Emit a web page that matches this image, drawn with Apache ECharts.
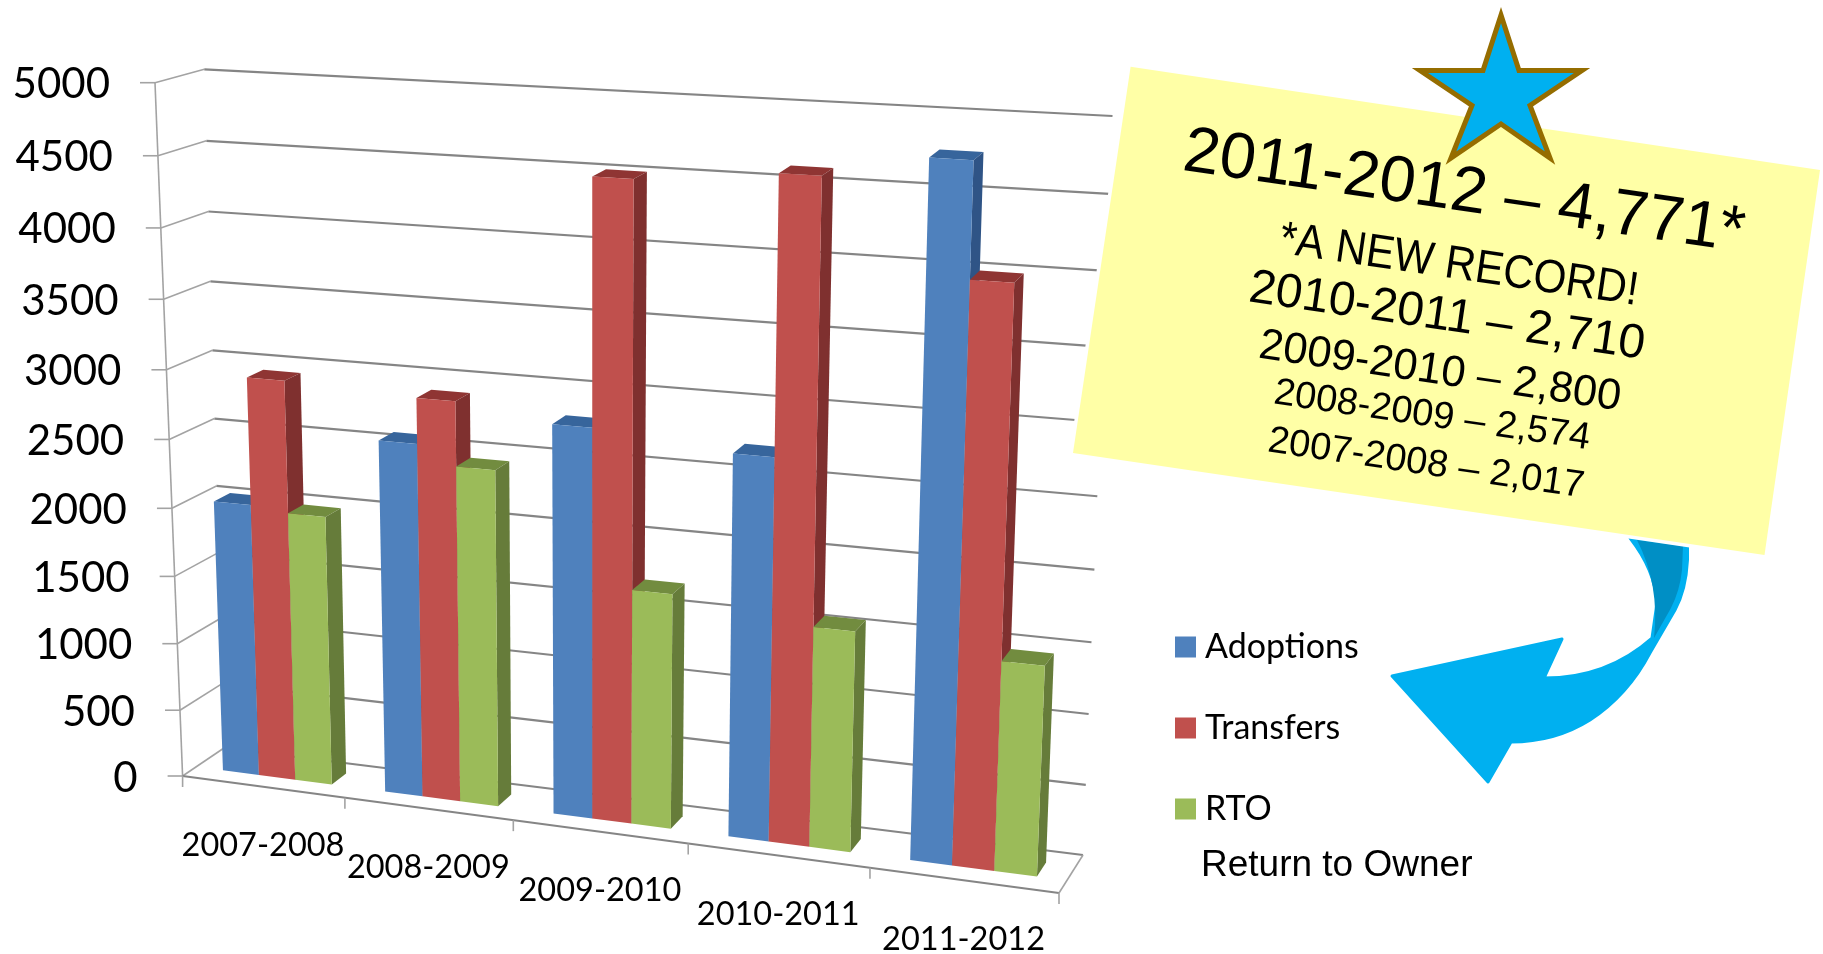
<!DOCTYPE html>
<html>
<head>
<meta charset="utf-8">
<style>html,body{margin:0;padding:0;background:#fff}#chart{width:1823px;height:954px}</style>
<script src="https://cdn.jsdelivr.net/npm/echarts@6/dist/echarts.min.js"></script>
</head>
<body>
<div id="chart"></div>
<script>
const categories = ['2007-2008', '2008-2009', '2009-2010', '2010-2011', '2011-2012']
const adoptions = [2017, 2574, 2800, 2710, 4771]
const transfers = [2940, 2900, 4510, 4610, 4000]
const rto = [1985, 2440, 1690, 1565, 1470]
const valueTicks = [0, 500, 1000, 1500, 2000, 2500, 3000, 3500, 4000, 4500, 5000]
const noteLines = [
  ['2011-2012 – 4,771*', 1464, 193, 65, 1],
  ['*A NEW RECORD!', 1459, 266, 47, 0.9],
  ['2010-2011 – 2,710', 1447, 317, 48, 1],
  ['2009-2010 – 2,800', 1440, 372, 43.5, 1],
  ['2008-2009 – 2,574', 1432, 416, 38, 1],
  ['2007-2008 – 2,017', 1426, 464, 38, 1]
]

// hidden grid, the scales live here and project() bends them into the 3d box
const GRID = { left: 0, top: 0, width: 1000, height: 900 }
const box = {
  f0l: [182.6, 776], f0r: [1059, 893], b0l: [224, 748], b0r: [1083, 855],
  f1l: [155, 82.7], f1r: [1089, 139], b1l: [204.3, 69.3], b1r: [1112.5, 116]
}
const warp = (t, k) => t / (t + k * (1 - t))
const mix = (a, b, t) => [a[0] + (b[0] - a[0]) * t, a[1] + (b[1] - a[1]) * t]

function project(u, v, z) {
  const uw = warp(u, 1.1)
  const vw = warp(v, 1.06)
  const bottom = mix(mix(box.f0l, box.f0r, uw), mix(box.b0l, box.b0r, uw), z)
  const top = mix(mix(box.f1l, box.f1r, uw), mix(box.b1l, box.b1r, uw), z)
  return mix(bottom, top, vw)
}
const toU = (px) => (px - GRID.left) / GRID.width
const toV = (py) => (GRID.top + GRID.height - py) / GRID.height

const BAR_FROM = 0.168
const BAR_WIDTH = 0.225
const Z_FRONT = 0.33
const Z_BACK = 0.7

function line(a, b, color, width) {
  return {
    type: 'line',
    shape: { x1: a[0], y1: a[1], x2: b[0], y2: b[1] },
    style: { stroke: color, lineWidth: width }
  }
}
function face(points, color) {
  return { type: 'polygon', shape: { points }, style: { fill: color } }
}

function renderBar(colors, slot) {
  return function (params, api) {
    const i = api.value(0)
    const band = api.size([1, 0])[0]
    const c = api.coord([i, api.value(1)])
    const zero = api.coord([i, 0])
    const start = c[0] - band / 2 + band * (BAR_FROM + BAR_WIDTH * slot)
    const u0 = toU(start)
    const u1 = toU(start + band * BAR_WIDTH)
    const v0 = toV(zero[1])
    const v1 = toV(c[1])
    return {
      type: 'group',
      children: [
        face([project(u0, v1, Z_FRONT), project(u1, v1, Z_FRONT), project(u1, v1, Z_BACK), project(u0, v1, Z_BACK)], colors[1]),
        face([project(u1, v0, Z_FRONT), project(u1, v0, Z_BACK), project(u1, v1, Z_BACK), project(u1, v1, Z_FRONT)], colors[2]),
        face([project(u0, v0, Z_FRONT), project(u1, v0, Z_FRONT), project(u1, v1, Z_FRONT), project(u0, v1, Z_FRONT)], colors[0])
      ]
    }
  }
}

function renderFrame(params, api) {
  const kids = []
  const lineColor = '#858585'
  valueTicks.forEach((t) => {
    const v = toV(api.coord([0, t])[1])
    const f = project(0, v, 0)
    const b = project(0, v, 1)
    const r = project(1, v, 1)
    kids.push(line(f, b, '#a3a3a3', 1.6))
    kids.push(line(b, r, lineColor, 2.2))
    kids.push(line([f[0] - 15, f[1]], f, '#a3a3a3', 1.6))
    kids.push({
      type: 'text',
      style: {
        text: String(t), x: f[0] - 45, y: f[1] + 2,
        font: '42px Lato', fill: '#000', align: 'right', verticalAlign: 'middle'
      }
    })
  })
  kids.push(line(project(0, 0, 0), project(0, 1, 0), '#a3a3a3', 1.6))
  kids.push(line(project(0, 0, 0), project(1, 0, 0), lineColor, 2.2))
  kids.push(line(project(1, 0, 0), project(1, 0, 1), '#a3a3a3', 1.6))
  categories.forEach((name, i) => {
    const band = api.size([1, 0])[0]
    const u = toU(api.coord([i, 0])[0])
    const tick = project(toU(api.coord([i, 0])[0] - band / 2), 0, 0)
    kids.push(line(tick, [tick[0], tick[1] + 11], '#a3a3a3', 1.6))
    const p = project(u, 0, 0)
    kids.push({
      type: 'text',
      style: {
        text: name, x: p[0], y: p[1] + 59,
        font: '32.5px Lato', fill: '#000', align: 'center', verticalAlign: 'middle'
      }
    })
  })
  const end = project(1, 0, 0)
  kids.push(line(end, [end[0], end[1] + 11], '#a3a3a3', 1.6))
  return { type: 'group', children: kids }
}

function renderNote() {
  const corners = [[1130.6, 66.8], [1820, 170], [1764.5, 555], [1073, 453]]
  const kids = [
    {
      type: 'path',
      shape: { pathData: 'M1392,676 L1562,639 L1544,678 Q1607,678 1652,638 L1657,603 Q1655,570 1630,538 L1687.5,547 L1687.5,560 Q1686,590 1675,610 L1650,653 Q1628,695 1590,720 Q1555,742 1511,742 L1488,782 Z' },
      style: { fill: '#00b0f0', stroke: '#00b0f0', lineWidth: 3, lineJoin: 'round' }
    },
    {
      type: 'path',
      shape: { pathData: 'M1637,540 L1683,546 L1682,570 Q1680,590 1671,608 L1654,638 Q1660,585 1637,540 Z' },
      style: { fill: '#008fc5' }
    },
    { type: 'polygon', shape: { points: corners }, style: { fill: '#ffffa6', stroke: '#fff', lineWidth: 7 } },
    { type: 'polygon', shape: { points: corners }, style: { fill: '#ffffa6' } }
  ]
  noteLines.forEach((l) => {
    kids.push({
      type: 'text',
      x: l[1],
      y: l[2],
      rotation: -0.145,
      scaleX: l[4],
      style: {
        text: l[0], font: l[3] + 'px "Liberation Sans"', fill: '#000',
        align: 'center', verticalAlign: 'middle'
      }
    })
  })
  kids.push({
    type: 'polygon',
    shape: {
      points: [[1501, 15], [1519, 70.5], [1582, 70.5], [1530, 105.5], [1550, 158], [1501, 124],
        [1451, 158], [1472, 105.5], [1420, 70.5], [1483, 70.5]]
    },
    style: { fill: '#00b0f0', stroke: '#956d00', lineWidth: 5, lineJoin: 'miter' }
  })
  kids.push({
    type: 'text',
    style: {
      text: 'Return to Owner', x: 1201, y: 866,
      font: '37px "Liberation Sans"', fill: '#000', align: 'left', verticalAlign: 'middle'
    }
  })
  return { type: 'group', children: kids }
}

function barSeries(name, values, colors, slot) {
  return {
    name,
    type: 'custom',
    silent: true,
    itemStyle: { color: colors[0] },
    renderItem: renderBar(colors, slot),
    encode: { x: 0, y: 1 },
    data: values.map((v, i) => [i, v])
  }
}

const chart = echarts.init(document.getElementById('chart'), null, { renderer: 'canvas' })
chart.setOption({
  animation: false,
  backgroundColor: '#fff',
  grid: GRID,
  xAxis: { type: 'category', data: categories, show: false },
  yAxis: { type: 'value', min: 0, max: 5000, interval: 500, show: false },
  legend: {
    data: ['Adoptions', 'Transfers', 'RTO'],
    orient: 'vertical',
    left: 1175,
    top: 630,
    padding: 0,
    icon: 'rect',
    itemWidth: 21,
    itemHeight: 21,
    itemGap: 47,
    selectedMode: false,
    textStyle: { fontFamily: 'Lato', fontSize: 34, lineHeight: 21, color: '#000', padding: [0, 0, 0, 4] }
  },
  series: [
    { type: 'custom', silent: true, renderItem: renderFrame, encode: { x: 0, y: 1 }, data: [[0, 0]] },
    barSeries('Adoptions', adoptions, ['#4f81bd', '#37659c', '#2f5486'], 0),
    barSeries('Transfers', transfers, ['#c0504d', '#8f3533', '#7f302f'], 1),
    barSeries('RTO', rto, ['#9bbb59', '#728c3f', '#667c3a'], 2),
    { type: 'custom', silent: true, coordinateSystem: 'none', renderItem: renderNote, data: [[0]] }
  ]
})
</script>
</body>
</html>
